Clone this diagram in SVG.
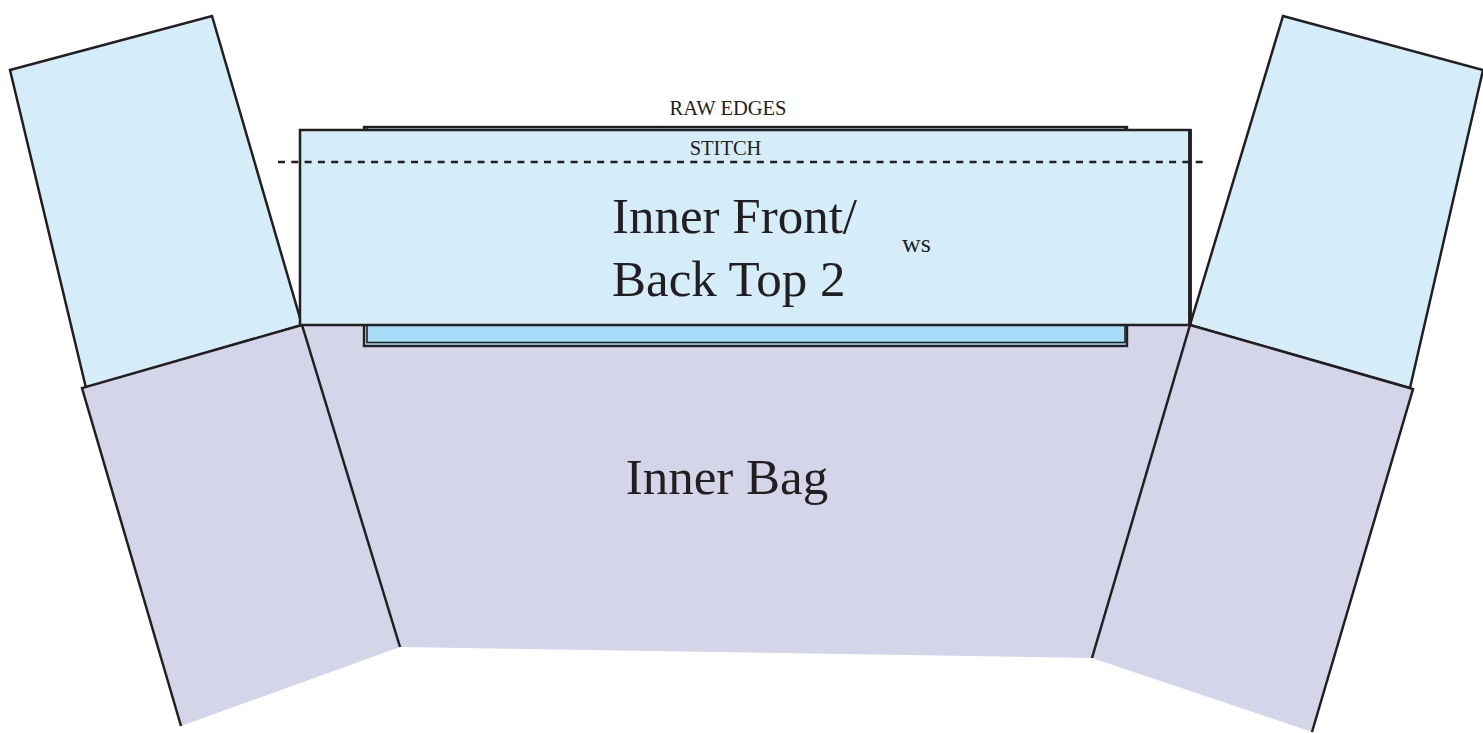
<svg xmlns="http://www.w3.org/2000/svg" width="1483" height="733" viewBox="0 0 1483 733">
<style>
.blue{fill:#d5ecf9;stroke:#231f20;stroke-width:2.5;stroke-linejoin:miter}
.purple{fill:#d4d5e8;stroke:none}
.edge{fill:none;stroke:#231f20;stroke-width:2.5}
.back{fill:#a7ddf8;stroke:#231f20;stroke-width:2.4}
.t{font-family:"Liberation Serif","Times New Roman",serif;fill:#231f20}
</style>
<rect width="1483" height="733" fill="#ffffff"/>
<g id="left-top-panel">
<polygon class="blue" points="10,70 212,16 302,325 86,388"/>
</g>
<g id="right-top-panel">
<polygon class="blue" points="1283,16 1483,70 1410,388 1190,325"/>
</g>
<g id="inner-bag">
<polygon class="purple" points="82,388 302,325 400,647 181,726"/>
<polygon class="purple" points="301,324 1191,324 1092,658 400,647"/>
<polygon class="purple" points="1190,325 1413,389 1312,732 1092,658"/>
<polyline class="edge" points="181,726 82,388 302,325 400,647"/>
<polyline class="edge" points="1092,658 1190,325 1413,389 1312,732"/>
<text class="t" x="727" y="494" font-size="51" text-anchor="middle">Inner Bag</text>
</g>
<g id="inner-front-back-top">
<rect class="back" x="364" y="127" width="763" height="219"/>
<rect fill="none" stroke="#231f20" stroke-width="1.6" x="367" y="127" width="758" height="215.5"/>
<rect class="blue" x="300" y="130" width="890" height="195"/>
<line x1="1190" y1="129" x2="1190" y2="326" stroke="#231f20" stroke-width="3.8"/>
<text class="t" x="612" y="233" font-size="51">Inner Front/</text>
<text class="t" x="612" y="296" font-size="51">Back Top 2</text>
<text class="t" x="902" y="252" font-size="26">ws</text>
</g>
<g id="stitch-line">
<line x1="278" y1="162" x2="1205" y2="162" stroke="#231f20" stroke-width="2.3" stroke-dasharray="7 6.3"/>
</g>
<g id="labels">
<text class="t" x="728" y="115" font-size="20.5" text-anchor="middle">RAW EDGES</text>
<text class="t" x="725.5" y="155" font-size="20.5" text-anchor="middle">STITCH</text>
</g>
</svg>
